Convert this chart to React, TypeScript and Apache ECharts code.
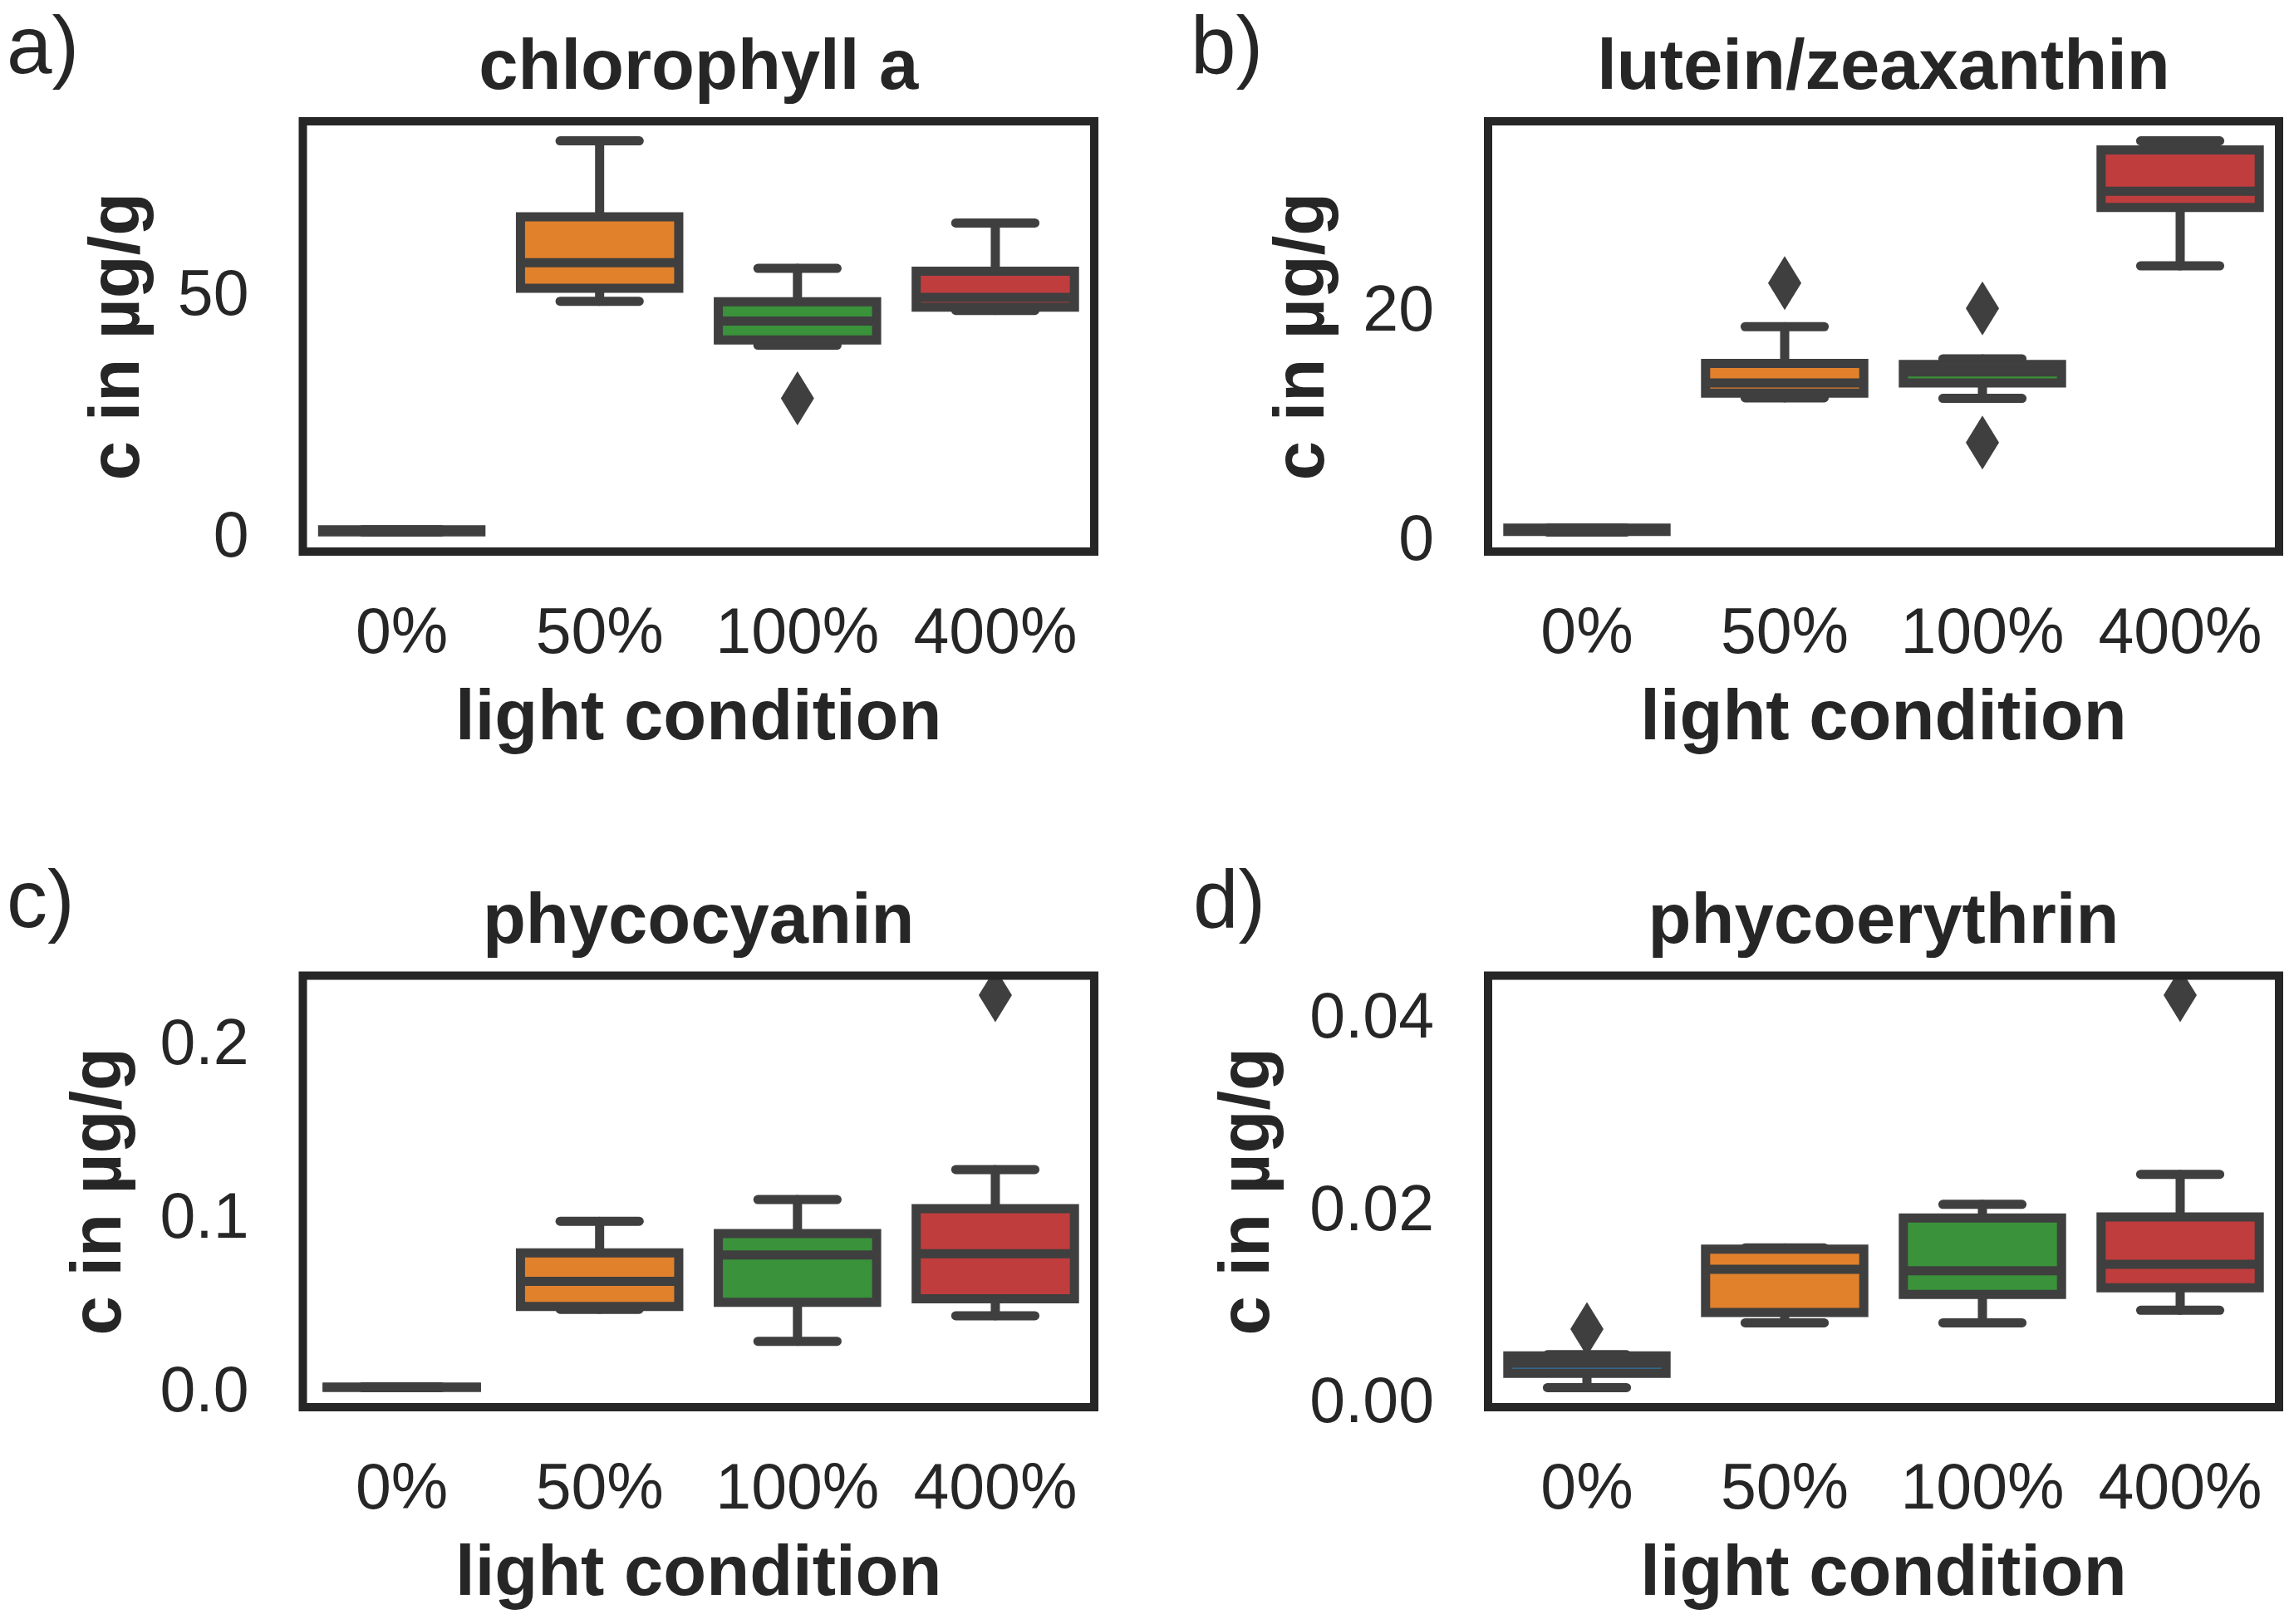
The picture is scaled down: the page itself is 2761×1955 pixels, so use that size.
import React, { useEffect, useRef } from "react";
import * as echarts from "echarts";

// ---------------- data ----------------
const categories = ["0%", "50%", "100%", "400%"];
const titles = ["chlorophyll a", "lutein/zeaxanthin", "phycocyanin", "phycoerythrin"];
const panelLetters = ["a)", "b)", "c)", "d)"];
const yAxisName = "c in µg/g";
const xAxisName = "light condition";

// each row: [lower whisker, Q1, median, Q3, upper whisker] for one light condition
const chlorophyllA = [
  [0.45, 0.5, 0.6, 0.9, 0.9],
  [48.2, 50.9, 56.2, 65.7, 81.4],
  [39.1, 40.2, 44.1, 48.1, 55.0],
  [46.3, 47.0, 49.0, 54.4, 64.4],
];
const chlorophyllAOutlierCats = ["100%"];
const chlorophyllAOutliers = [28.1];

const luteinZeaxanthin = [
  [0.5, 0.55, 0.7, 0.84, 0.84],
  [12.2, 12.6, 13.5, 15.2, 18.4],
  [12.15, 13.5, 14.45, 15.1, 15.6],
  [23.7, 28.8, 30.2, 33.8, 34.6],
];
const luteinOutlierCats = ["50%", "100%", "100%"];
const luteinOutliers = [22.2, 20.0, 8.3];

const phycocyanin = [
  [0.0008, 0.001, 0.001, 0.001, 0.0012],
  [0.0459, 0.0476, 0.062, 0.0784, 0.0967],
  [0.0275, 0.05, 0.0773, 0.0896, 0.1092],
  [0.0422, 0.052, 0.078, 0.104, 0.1265],
];
const phycocyaninOutlierCats = ["400%"];
const phycocyaninOutliers = [0.227];

const phycoerythrin = [
  [0.00127, 0.00274, 0.00381, 0.00457, 0.00469],
  [0.008, 0.00907, 0.01356, 0.01567, 0.0158],
  [0.008, 0.01095, 0.01342, 0.01891, 0.02032],
  [0.00931, 0.01164, 0.01408, 0.019, 0.02344],
];
const phycoerythrinOutlierCats = ["0%", "400%"];
const phycoerythrinOutliers = [0.00735, 0.04206];

const yTicksA = [0, 50];
const yTicksB = [0, 20];
const yTicksC = [0, 0.1, 0.2];
const yTicksD = [0, 0.02, 0.04];
const tickDecimals = [0, 0, 1, 2];

// ---------------- styles / layout ----------------
const palette = ["#3274a1", "#e1812c", "#3a923a", "#c03d3e"];
const boxLineColor = "#3f3f3f";
const textColor = "#262626";
const FONT = "'Liberation Sans', Arial, sans-serif";

const gridRects = [
  { left: 364.5, top: 146, width: 952.5, height: 518 },
  { left: 1791, top: 146, width: 952, height: 518 },
  { left: 364.5, top: 1174.5, width: 952.5, height: 519.5 },
  { left: 1791, top: 1174.5, width: 952, height: 519.5 },
];
const yNameGaps = [185, 185, 207, 251];
const letterPos = [
  { x: 8, y: 54 },
  { x: 1433, y: 54 },
  { x: 8, y: 1082 },
  { x: 1436, y: 1082 },
];
const titleY = [77, 77, 1105, 1105];

const panels = [
  { stats: chlorophyllA, outCats: chlorophyllAOutlierCats, outVals: chlorophyllAOutliers, ticks: yTicksA },
  { stats: luteinZeaxanthin, outCats: luteinOutlierCats, outVals: luteinOutliers, ticks: yTicksB },
  { stats: phycocyanin, outCats: phycocyaninOutlierCats, outVals: phycocyaninOutliers, ticks: yTicksC },
  { stats: phycoerythrin, outCats: phycoerythrinOutlierCats, outVals: phycoerythrinOutliers, ticks: yTicksD },
];

function paddedRange(stats: number[][], outs: number[]) {
  const all = stats.flat().concat(outs);
  const lo = Math.min(...all);
  const hi = Math.max(...all);
  const pad = (hi - lo) * 0.05;
  return [lo - pad, hi + pad];
}

const LW = 11;

function renderBox(params: any, api: any) {
  const j = api.value(0);
  const pts = [1, 2, 3, 4, 5].map((d) => api.coord([j, api.value(d)]));
  const cx = pts[0][0];
  const [yLo, yQ1, yMed, yQ3, yHi] = pts.map((p: number[]) => p[1]);
  const band = api.size([1, 0])[0];
  const half = band * 0.4;
  const capHalf = band * 0.2;
  const ls = { stroke: boxLineColor, lineWidth: LW, lineCap: "round" };
  return {
    type: "group",
    children: [
      { type: "line", shape: { x1: cx, y1: yQ3, x2: cx, y2: yHi }, style: ls },
      { type: "line", shape: { x1: cx, y1: yQ1, x2: cx, y2: yLo }, style: ls },
      { type: "line", shape: { x1: cx - capHalf, y1: yHi, x2: cx + capHalf, y2: yHi }, style: ls },
      { type: "line", shape: { x1: cx - capHalf, y1: yLo, x2: cx + capHalf, y2: yLo }, style: ls },
      {
        type: "rect",
        shape: { x: cx - half, y: yQ3, width: 2 * half, height: yQ1 - yQ3 },
        style: { fill: palette[j], stroke: boxLineColor, lineWidth: LW },
      },
      {
        type: "line",
        shape: { x1: cx - half, y1: yMed, x2: cx + half, y2: yMed },
        style: { stroke: boxLineColor, lineWidth: LW, lineCap: "butt" },
      },
    ],
  };
}

function renderOutlier(params: any, api: any) {
  const p = api.coord([api.value(0), api.value(1)]);
  const w = 20;
  const h = 32.5;
  return {
    type: "polygon",
    shape: {
      points: [
        [p[0], p[1] - h],
        [p[0] + w, p[1]],
        [p[0], p[1] + h],
        [p[0] - w, p[1]],
      ],
    },
    style: { fill: boxLineColor },
  };
}

function buildOption() {
  const grid: any[] = [];
  const xAxis: any[] = [];
  const yAxis: any[] = [];
  const series: any[] = [];
  const graphic: any[] = [];

  panels.forEach((pnl, i) => {
    const r = gridRects[i];
    const [ymin, ymax] = paddedRange(pnl.stats, pnl.outVals);
    grid.push({ left: r.left, top: r.top, width: r.width, height: r.height, show: false });
    xAxis.push({
      type: "category",
      gridIndex: i,
      data: categories,
      boundaryGap: true,
      axisLine: { show: false },
      axisTick: { show: false },
      splitLine: { show: false },
      axisLabel: { interval: 0, hideOverlap: false, fontSize: 77, color: textColor, fontFamily: FONT, margin: 56 },
      name: xAxisName,
      nameLocation: "middle",
      nameGap: 154,
      nameTextStyle: { fontSize: 85, fontWeight: "bold", color: textColor, fontFamily: FONT },
    });
    const dec = tickDecimals[i];
    yAxis.push({
      type: "value",
      gridIndex: i,
      min: ymin,
      max: ymax,
      axisLine: { show: false },
      axisTick: { show: false },
      splitLine: { show: false },
      axisLabel: {
        customValues: pnl.ticks,
        formatter: (v: number) => v.toFixed(dec),
        fontSize: 77,
        color: textColor,
        fontFamily: FONT,
        margin: 65,
      },
      name: yAxisName,
      nameLocation: "middle",
      nameGap: yNameGaps[i],
      nameTextStyle: { fontSize: 85, fontWeight: "bold", color: textColor, fontFamily: FONT },
    });
    series.push({
      type: "custom",
      name: titles[i],
      xAxisIndex: i,
      yAxisIndex: i,
      data: pnl.stats.map((s, j) => [j, ...s]),
      encode: { x: 0, y: [1, 2, 3, 4, 5] },
      renderItem: renderBox,
      z: 2,
    });
    series.push({
      type: "custom",
      name: titles[i] + " outliers",
      xAxisIndex: i,
      yAxisIndex: i,
      clip: true,
      data: pnl.outCats.map((c, k) => [categories.indexOf(c), pnl.outVals[k]]),
      encode: { x: 0, y: 1 },
      renderItem: renderOutlier,
      z: 3,
    });
    // frame (spines) on top
    graphic.push({
      type: "rect",
      shape: { x: r.left, y: r.top, width: r.width, height: r.height },
      style: { fill: "none", stroke: textColor, lineWidth: 10 },
      z: 100,
      silent: true,
    });
    graphic.push({
      type: "text",
      x: r.left + r.width / 2,
      y: titleY[i],
      style: {
        text: titles[i],
        fill: textColor,
        font: `bold 85px ${FONT}`,
        textAlign: "center",
        textVerticalAlign: "middle",
      },
      z: 100,
    });
    graphic.push({
      type: "text",
      x: letterPos[i].x,
      y: letterPos[i].y,
      style: {
        text: panelLetters[i],
        fill: textColor,
        font: `98px ${FONT}`,
        textAlign: "left",
        textVerticalAlign: "middle",
      },
      z: 100,
    });
  });

  return {
    animation: false,
    backgroundColor: "#ffffff",
    grid,
    xAxis,
    yAxis,
    series,
    graphic,
  };
}

export default function App() {
  const ref = useRef<HTMLDivElement>(null);
  useEffect(() => {
    if (!ref.current) return;
    const chart = echarts.init(ref.current, null, { renderer: "svg" });
    chart.setOption(buildOption() as any);
    return () => chart.dispose();
  }, []);
  return (
    <div
      ref={ref}
      style={{ position: "absolute", left: 0, top: 0, width: 2761, height: 1955, background: "#fff" }}
    />
  );
}
